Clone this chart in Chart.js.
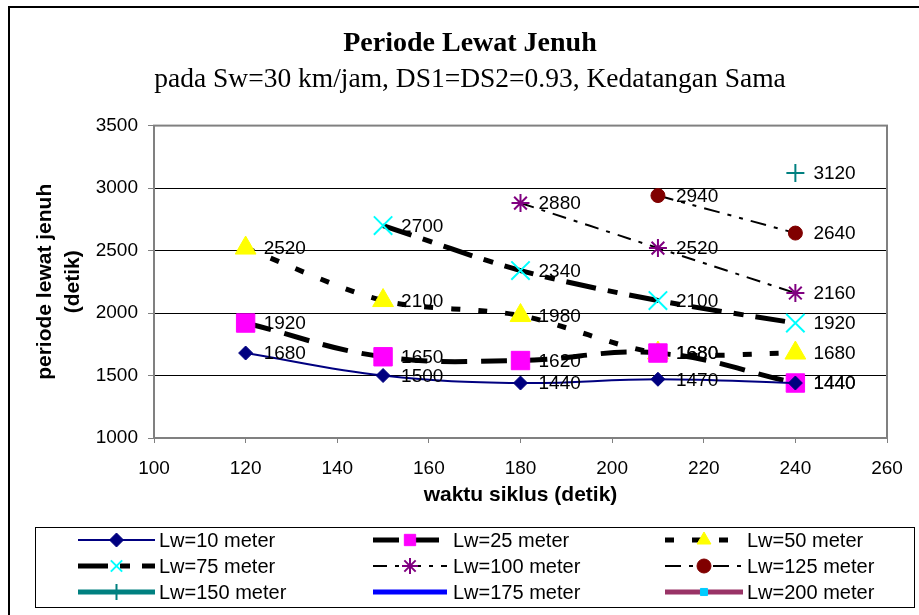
<!DOCTYPE html>
<html>
<head>
<meta charset="utf-8">
<script src="https://cdn.jsdelivr.net/npm/chart.js@4/dist/chart.umd.min.js"></script>
<style>
  html, body { margin: 0; padding: 0; background: #fff; }
  #chart { display: block; }
</style>
</head>
<body>
<canvas id="chart" width="919" height="615"></canvas>
<script>
// waktu siklus (detik)
const cycles = [120, 150, 180, 210, 240];

// periode lewat jenuh (detik) per panjang Lw
const lw10  = [1680, 1500, 1440, 1470, 1440];
const lw25  = [1920, 1650, 1620, 1680, 1440];
const lw50  = [2520, 2100, 1980, 1680, 1680];
const lw75  = [null, 2700, 2340, 2100, 1920];
const lw100 = [null, null, 2880, 2520, 2160];
const lw125 = [null, null, null, 2940, 2640];
const lw150 = [null, null, null, null, 3120];
const lw175 = [null, null, null, null, null];
const lw200 = [null, null, null, null, null];

const seriesNames = ['Lw=10 meter', 'Lw=25 meter', 'Lw=50 meter', 'Lw=75 meter', 'Lw=100 meter',
                     'Lw=125 meter', 'Lw=150 meter', 'Lw=175 meter', 'Lw=200 meter'];

const xTicks = [100, 120, 140, 160, 180, 200, 220, 240, 260];
const yTicks = [1000, 1500, 2000, 2500, 3000, 3500];

function pts(values) {
    const out = [];
    values.forEach((v, i) => { if (v !== null) out.push({ x: cycles[i], y: v }); });
    return out;
}

// garis & marker gaya Excel
const styles = [
    { line: '#000080', width: 2, dash: [], marker: 'rectRot', fill: '#000080', r: 7, tension: 0.4 },
    { line: '#000000', width: 5, dash: [26, 14], marker: 'rect', fill: '#ff00ff', r: 13, tension: 0.4 },
    { line: '#000000', width: 5, dash: [9, 18], marker: 'triangle', fill: '#ffff00', r: 12, tension: 0.3 },
    { line: '#000000', width: 5, dash: [30, 12, 10, 12], marker: 'crossRot', fill: '#00ffff', r: 13, tension: 0.3 },
    { line: '#000000', width: 2, dash: [14, 8, 4, 8], marker: 'star', fill: '#800080', r: 9, tension: 0.2 },
    { line: '#000000', width: 2, dash: [16, 8, 4, 8, 4, 8], marker: 'circle', fill: '#800000', r: 7, tension: 0.2 },
    { line: '#008080', width: 5, dash: [], marker: 'cross', fill: '#008080', r: 9, tension: 0.2 },
    { line: '#0000ff', width: 5, dash: [], marker: 'line', fill: '#0000ff', r: 0, tension: 0.2 },
    { line: '#993366', width: 5, dash: [], marker: 'rect', fill: '#00ccff', r: 5, tension: 0.2 }
];

const allSeries = [lw10, lw25, lw50, lw75, lw100, lw125, lw150, lw175, lw200];

const datasets = allSeries.map((vals, i) => {
    const s = styles[i];
    const crossy = ['crossRot', 'star', 'cross'].includes(s.marker);
    return {
        label: seriesNames[i],
        data: pts(vals),
        borderColor: s.line,
        borderWidth: s.width,
        borderDash: s.dash,
        tension: s.tension,
        pointStyle: s.marker,
        pointRadius: s.r,
        pointBackgroundColor: s.fill,
        pointBorderColor: s.fill,
        pointBorderWidth: crossy ? 2 : 1,
        fill: false
    };
});

// label angka di kanan titik
const valueLabels = {
    id: 'valueLabels',
    afterDatasetsDraw(chart) {
        const ctx = chart.ctx;
        ctx.save();
        ctx.font = '19px "Liberation Sans", Arial, sans-serif';
        ctx.fillStyle = '#000';
        ctx.textAlign = 'left';
        ctx.textBaseline = 'middle';
        chart.data.datasets.forEach((ds, i) => {
            const meta = chart.getDatasetMeta(i);
            meta.data.forEach((el, j) => {
                ctx.fillText(String(ds.data[j].y), el.x + 18, el.y + 1);
            });
        });
        ctx.restore();
    }
};

// bingkai luar, bingkai plot, legenda
const frame = {
    id: 'frame',
    beforeDraw(chart) {
        const ctx = chart.ctx;
        ctx.save();
        ctx.fillStyle = '#fff';
        ctx.fillRect(0, 0, chart.width, chart.height);
        ctx.restore();
    },
    afterDraw(chart) {
        const ctx = chart.ctx;
        const a = chart.chartArea;
        ctx.save();
        ctx.strokeStyle = '#000';
        ctx.lineWidth = 2;
        ctx.strokeRect(9, 7, 940, 700);
        ctx.strokeStyle = '#808080';
        ctx.lineWidth = 2;
        ctx.strokeRect(a.left, a.top, a.right - a.left, a.bottom - a.top);

        // legenda
        ctx.strokeStyle = '#000';
        ctx.lineWidth = 1;
        ctx.strokeRect(35.5, 527.5, 879, 80);
        const cols = [[78, 155, 159], [373, 447, 453], [665, 743, 747]];
        const rows = [540, 566, 592];
        chart.data.datasets.forEach((ds, i) => {
            const c = cols[i % 3];
            const y = rows[Math.floor(i / 3)];
            ctx.save();
            ctx.strokeStyle = ds.borderColor;
            ctx.lineWidth = ds.borderWidth;
            ctx.setLineDash(ds.borderDash);
            ctx.beginPath();
            ctx.moveTo(c[0], y);
            ctx.lineTo(c[1], y);
            ctx.stroke();
            ctx.setLineDash([]);
            if (ds.pointRadius > 0) {
                ctx.fillStyle = ds.pointBackgroundColor;
                ctx.strokeStyle = ds.pointBorderColor;
                ctx.lineWidth = ds.pointBorderWidth;
                Chart.helpers.drawPoint(ctx, {
                    pointStyle: ds.pointStyle,
                    radius: Math.min(ds.pointRadius, 8),
                    rotation: 0,
                    borderWidth: ds.pointBorderWidth
                }, (c[0] + c[1]) / 2, y);
            }
            ctx.fillStyle = '#000';
            ctx.font = '20px "Liberation Sans", Arial, sans-serif';
            ctx.textAlign = 'left';
            ctx.textBaseline = 'middle';
            ctx.fillText(ds.label, c[2], y + 1);
            ctx.restore();
        });
        ctx.restore();
    }
};

const ctx = document.getElementById('chart').getContext('2d');
const chart = new Chart(ctx, {
    type: 'line',
    data: { datasets: datasets },
    plugins: [frame, valueLabels],
    options: {
        responsive: false,
        animation: false,
        layout: { padding: { left: 31, right: 10, top: 0, bottom: 97 } },
        plugins: {
            legend: { display: false },
            tooltip: { enabled: false },
            title: {
                display: true,
                text: 'Periode Lewat Jenuh',
                color: '#000',
                font: { family: '"Liberation Serif", "Times New Roman", serif', size: 28, weight: 'bold', lineHeight: 1.2 },
                padding: { top: 27, bottom: 2 }
            },
            subtitle: {
                display: true,
                text: 'pada Sw=30 km/jam, DS1=DS2=0.93, Kedatangan Sama',
                color: '#000',
                font: { family: '"Liberation Serif", "Times New Roman", serif', size: 27.5, lineHeight: 1.2 },
                padding: { top: 1, bottom: 29 }
            }
        },
        scales: {
            x: {
                type: 'linear',
                min: 100,
                max: 260,
                afterBuildTicks: (s) => { s.ticks = xTicks.map(v => ({ value: v })); },
                afterFit: (s) => { s.height = 80; },
                ticks: { color: '#000', padding: 14, font: { family: '"Liberation Sans", Arial, sans-serif', size: 19 },
                         callback: (v) => String(v) },
                grid: { drawOnChartArea: false, drawTicks: true, tickLength: 5, color: '#808080', lineWidth: 1 },
                border: { color: '#808080', width: 2 },
                title: {
                    display: true,
                    text: 'waktu siklus (detik)',
                    color: '#000',
                    font: { family: '"Liberation Sans", Arial, sans-serif', size: 21, weight: 'bold', lineHeight: 1.2 },
                    padding: { top: 0, bottom: 10 }
                }
            },
            y: {
                min: 1000,
                max: 3500,
                afterBuildTicks: (s) => { s.ticks = yTicks.map(v => ({ value: v })); },
                afterFit: (s) => { s.width = 123; },
                ticks: { color: '#000', padding: 10, font: { family: '"Liberation Sans", Arial, sans-serif', size: 19 },
                         callback: (v) => String(v) },
                grid: { color: '#000', tickColor: '#808080', tickLength: 6, lineWidth: 1 },
                border: { color: '#808080', width: 2 },
                title: {
                    display: true,
                    text: ['periode lewat jenuh', '(detik)'],
                    color: '#000',
                    font: { family: '"Liberation Sans", Arial, sans-serif', size: 21, weight: 'bold', lineHeight: 1.35 },
                    padding: { top: 0, bottom: 0 }
                }
            },
            // ruang kosong di kanan area plot
            yRight: {
                position: 'right',
                min: 1000,
                max: 3500,
                afterFit: (s) => { s.width = 22; },
                ticks: { display: false },
                grid: { display: false, drawTicks: false },
                border: { display: false }
            }
        }
    }
});
</script>
</body>
</html>
